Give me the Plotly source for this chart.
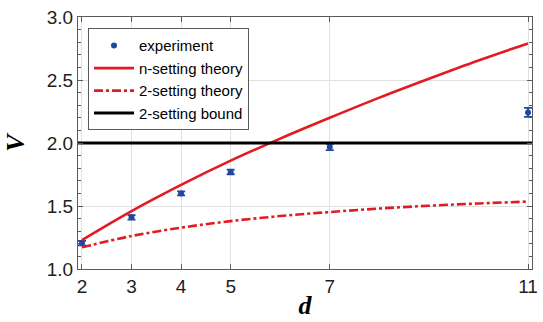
import plotly.graph_objects as go

# ---- data ----
d_exp = [2, 3, 4, 5, 7, 11]
v_exp = [1.206, 1.41, 1.60, 1.77, 1.968, 2.243]
v_err = [0.018, 0.018, 0.016, 0.018, 0.025, 0.035]

d_theory = [2, 3, 4, 5, 6, 7, 8, 9, 10, 11]
v_n_setting = [1.23, 1.46, 1.668, 1.86, 2.035, 2.20, 2.36, 2.51, 2.655, 2.79]
v_2_setting = [1.172, 1.262, 1.328, 1.38, 1.42, 1.452, 1.48, 1.502, 1.52, 1.535]

d_bound = [1.92, 11.08]
v_bound = [2.0, 2.0]

x_ticks = [2, 3, 4, 5, 7, 11]
y_ticks = [1.0, 1.5, 2.0, 2.5, 3.0]
y_tick_text = ["1.0", "1.5", "2.0", "2.5", "3.0"]

red = "rgb(226,27,34)"
blue = "rgb(32,72,160)"

fig = go.Figure()
fig.add_trace(go.Scatter(
    x=d_exp, y=v_exp, mode="markers", name="experiment",
    marker=dict(color=blue, size=6),
    error_y=dict(type="data", array=v_err, color=blue, thickness=1.8, width=4),
))
fig.add_trace(go.Scatter(
    x=d_theory, y=v_n_setting, mode="lines", name="n-setting theory",
    line=dict(color=red, width=2.6, shape="spline", smoothing=1.0),
))
fig.add_trace(go.Scatter(
    x=d_theory, y=v_2_setting, mode="lines", name="2-setting theory",
    line=dict(color=red, width=2.6, dash="dashdot", shape="spline", smoothing=1.0),
))
fig.add_trace(go.Scatter(
    x=d_bound, y=v_bound, mode="lines", name="2-setting bound",
    line=dict(color="black", width=3),
))

axis_common = dict(
    showline=True, linecolor="rgb(90,90,90)", linewidth=1, mirror="ticks",
    ticks="inside", ticklen=5, tickcolor="rgb(90,90,90)",
    showgrid=True, gridcolor="rgb(225,225,225)", gridwidth=1,
    zeroline=False, automargin=False,
    tickfont=dict(family="Arial, Liberation Sans, sans-serif", size=19, color="rgb(30,30,30)"),
)

fig.update_layout(
    width=543, height=322,
    margin=dict(l=78, r=11, t=17, b=53),
    paper_bgcolor="white", plot_bgcolor="white",
    font=dict(family="Arial, Liberation Sans, sans-serif", color="rgb(30,30,30)"),
    xaxis=dict(
        range=[1.92, 11.08], tickvals=x_ticks, ticktext=[str(t) for t in x_ticks],
        title=dict(text="<b><i>d</i></b>", font=dict(family="Liberation Serif, Times New Roman, serif", size=26, color="black"), standoff=0),
        **axis_common,
    ),
    yaxis=dict(
        range=[1.0, 3.0], tickvals=y_ticks, ticktext=y_tick_text,
        minor=dict(dtick=0.1, ticks="inside", ticklen=3, tickcolor="rgb(90,90,90)", showgrid=False),
        title=dict(text="<b><i>V</i></b>", font=dict(family="Liberation Serif, Times New Roman, serif", size=26, color="black"), standoff=14),
        **axis_common,
    ),
    legend=dict(
        x=0.022, y=0.955, xanchor="left", yanchor="top",
        bgcolor="white", bordercolor="rgb(90,90,90)", borderwidth=1,
        font=dict(family="Arial, Liberation Sans, sans-serif", size=15, color="black"),
        tracegroupgap=0, itemwidth=40,
    ),
    showlegend=True,
)

fig.write_html(
    "out.html",
    config={"displayModeBar": False},
    post_script="document.body.style.margin='0';document.body.style.overflow='hidden';",
)
